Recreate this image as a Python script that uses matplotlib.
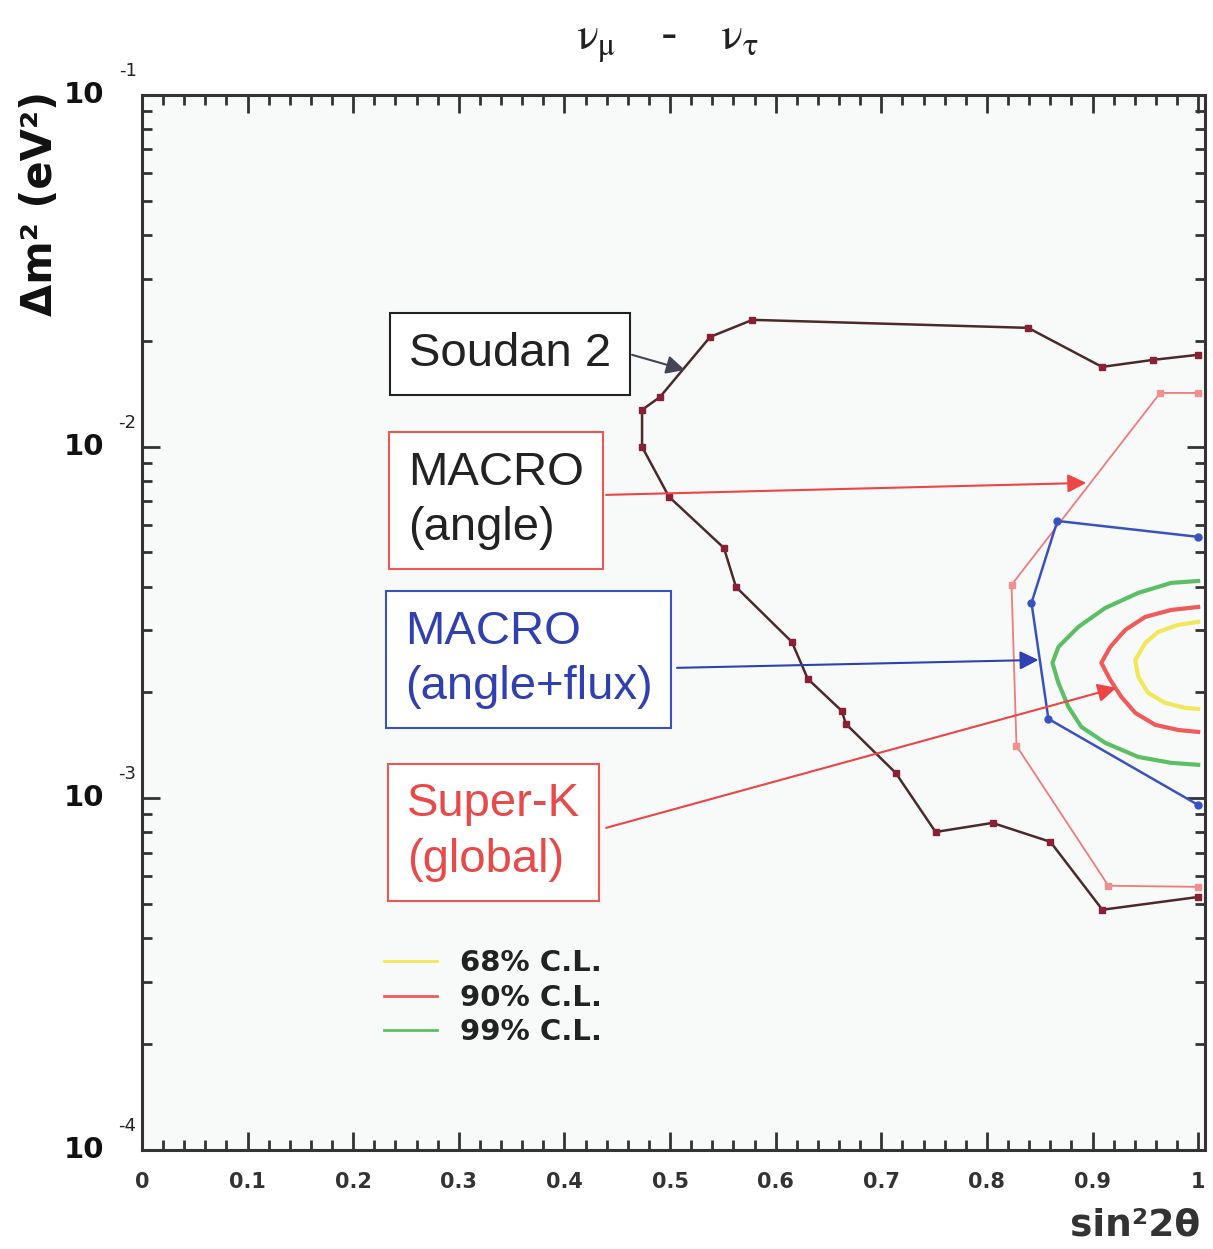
import matplotlib
matplotlib.use('Agg')
import matplotlib.pyplot as plt
from matplotlib.ticker import MultipleLocator, LogLocator, NullFormatter
import matplotlib.transforms as mtrans

plt.rcParams['mathtext.fontset'] = 'stix'

# Soudan 2 allowed region (closed outline, upper branch then lower branch)
soudan_x = [1.0, 0.957, 0.909, 0.839, 0.578, 0.538, 0.4905, 0.4735, 0.4735,
            0.499, 0.551, 0.5624, 0.6153, 0.6304, 0.6626, 0.6664, 0.7136,
            0.7514, 0.8053, 0.8601, 0.9093, 1.0]
soudan_y = [0.01824, 0.01764, 0.01685, 0.02176, 0.02293, 0.02051, 0.01384,
            0.01272, 0.009982, 0.00720, 0.00515, 0.00399, 0.002784, 0.002185,
            0.001772, 0.001628, 0.001181, 0.000802, 0.000851, 0.000752,
            0.000482, 0.000524]

# MACRO (angle)
macro_a_x = [1.0, 0.964, 0.8233, 0.828, 0.915, 1.0]
macro_a_y = [0.01421, 0.01421, 0.004044, 0.001409, 0.000564, 0.000560]

# MACRO (angle+flux)
macro_af_x = [1.0, 0.8667, 0.8422, 0.8582, 1.0]
macro_af_y = [0.005538, 0.006146, 0.003594, 0.001682, 0.000957]

# Super-K global contours
sk99_x = [1.0, 0.9745, 0.9433, 0.9121, 0.8866, 0.8677, 0.862, 0.8677, 0.8771,
          0.8894, 0.9121, 0.9433, 0.9745, 1.0]
sk99_y = [0.004149, 0.004097, 0.003837, 0.003478, 0.003072, 0.002694,
          0.002427, 0.002128, 0.001820, 0.001596, 0.001437, 0.001311,
          0.001261, 0.001245]
sk90_x = [1.0, 0.9745, 0.9499, 0.931, 0.9168, 0.9083, 0.9168, 0.9272, 0.9405,
          0.9594, 0.9811, 1.0]
sk90_y = [0.003500, 0.003432, 0.003279, 0.003012, 0.002694, 0.002427,
          0.002171, 0.001943, 0.001749, 0.001617, 0.001564, 0.001544]
sk68_x = [1.0, 0.9811, 0.9622, 0.9499, 0.9405, 0.9433, 0.9527, 0.9688, 0.9877,
          1.0]
sk68_y = [0.003174, 0.003112, 0.002972, 0.002766, 0.002474, 0.002213,
          0.001993, 0.001867, 0.001807, 0.001795]

cl_labels = ['68% C.L.', '90% C.L.', '99% C.L.']
xticks = [0, 0.1, 0.2, 0.3, 0.4, 0.5, 0.6, 0.7, 0.8, 0.9, 1]
xtick_labels = ['0', '0.1', '0.2', '0.3', '0.4', '0.5', '0.6', '0.7', '0.8', '0.9', '1']
yticks = [1e-4, 1e-3, 1e-2, 1e-1]
ytick_exps = ['-4', '-3', '-2', '-1']

fig = plt.figure(figsize=(12.13, 12.49), dpi=100)
ax = fig.add_axes([0.117, 0.0793, 0.876, 0.8447])
ax.set_facecolor('#f8fafa')

ax.plot(soudan_x, soudan_y, '-', color='#4a2a2a', lw=1.8, marker='s',
        ms=5, mfc='#8b2035', mec='#8b2035', zorder=3)
ax.plot(macro_a_x, macro_a_y, '-', color='#f27a7a', lw=1.3, marker='s',
        ms=5, mfc='#f09090', mec='#f09090', zorder=3)
ax.plot(macro_af_x, macro_af_y, '-', color='#3a52c0', lw=1.8, marker='o',
        ms=5, mfc='#3a52c0', mec='#3a52c0', zorder=3)
l68, = ax.plot(sk68_x, sk68_y, '-', color='#f2e65a', lw=3,
               solid_joinstyle='round', label=cl_labels[0])
l90, = ax.plot(sk90_x, sk90_y, '-', color='#f05a5a', lw=3,
               solid_joinstyle='round', label=cl_labels[1])
l99, = ax.plot(sk99_x, sk99_y, '-', color='#5cbf65', lw=3,
               solid_joinstyle='round', label=cl_labels[2])

ax.set_xlim(0, 1.006)
ax.set_ylim(1e-4, 1e-1)
ax.set_yscale('log')

ax.set_xticks(xticks)
ax.set_xticklabels(xtick_labels, fontsize=15, fontweight='bold', color='#333333')
ax.xaxis.set_minor_locator(MultipleLocator(0.02))
ax.set_yticks(yticks)
ax.set_yticklabels(['' for _ in yticks])
ax.yaxis.set_minor_locator(LogLocator(base=10, subs=range(2, 10)))
ax.yaxis.set_minor_formatter(NullFormatter())
ax.tick_params(which='both', direction='in', top=True, right=True,
               color='#333333', width=2)
ax.tick_params(which='major', length=13, pad=16)
ax.tick_params(which='minor', length=7)
for s in ax.spines.values():
    s.set_linewidth(2.2)
    s.set_color('#333333')

# y tick labels: "10" with exponent placed above-left of the axis
ytr = ax.get_yaxis_transform()
for yv, ex in zip(yticks, ytick_exps):
    ax.text(-0.035, yv, '10', transform=ytr, ha='right', va='center',
            fontsize=21, fontweight='bold', color='#111111')
    off = mtrans.ScaledTranslation(0, 0.24, fig.dpi_scale_trans)
    ax.text(-0.005, yv, ex, transform=ytr + off, ha='right', va='center',
            fontsize=13, color='#222222')

fig.text(40 / 1213, 1 - 203 / 1249, 'Δm² (eV²)', rotation=90, ha='center',
         va='center', fontsize=30, fontweight='bold', color='#111111')
fig.text(667 / 1213, 1 - 42 / 1249,
         r'$\mathrm{\nu_{\mu}}$   -   $\mathrm{\nu_{\tau}}$', ha='center',
         va='center', fontsize=33, color='#222222')
fig.text(1135 / 1213, 1 - 1226 / 1249, 'sin²2θ', ha='center', va='center',
         fontsize=27, fontweight='bold', color='#333333')

# labelled boxes
box_font = 'Liberation Sans'
box_fs = 34
ax.text(0.3467, 0.7545, 'Soudan 2', transform=ax.transAxes, ha='center',
        va='center', fontsize=box_fs, family=box_font, color='#222222',
        bbox=dict(boxstyle='square,pad=0.4', fc='white', ec='#222222', lw=1.5))
ax.text(0.333, 0.6156, 'MACRO\n(angle)', transform=ax.transAxes, ha='center',
        va='center', fontsize=box_fs, family=box_font, color='#222222',
        multialignment='left', linespacing=1.35,
        bbox=dict(boxstyle='square,pad=0.4', fc='white', ec='#ee5555', lw=1.5))
ax.text(0.364, 0.4649, 'MACRO\n(angle+flux)', transform=ax.transAxes,
        ha='center', va='center', fontsize=box_fs, family=box_font,
        color='#3040b0', multialignment='left', linespacing=1.35,
        bbox=dict(boxstyle='square,pad=0.4', fc='white', ec='#3a52c0', lw=1.5))
ax.text(0.3307, 0.301, 'Super-K\n(global)', transform=ax.transAxes,
        ha='center', va='center', fontsize=box_fs, family=box_font,
        color='#e84a4a', multialignment='left', linespacing=1.35,
        bbox=dict(boxstyle='square,pad=0.4', fc='white', ec='#ee5555', lw=1.5))

# arrows from boxes to curves
arrows = [((0.464, 0.01824), (0.514, 0.01652), '#444455'),
          ((0.4395, 0.00729), (0.894, 0.007884), '#ee4444'),
          ((0.5066, 0.002349), (0.8488, 0.002474), '#3040b0'),
          ((0.4395, 0.000824), (0.9225, 0.002061), '#ee4444')]
for start, tip, c in arrows:
    ax.annotate('', xy=tip, xytext=start,
                arrowprops=dict(arrowstyle='-|>', color=c, lw=1.5,
                                mutation_scale=28, shrinkA=0, shrinkB=0),
                zorder=4)

leg = ax.legend(handles=[l68, l90, l99], loc='upper left',
                bbox_to_anchor=(0.228, 0.19), frameon=False, fontsize=21,
                handlelength=1.8, handletextpad=0.8, labelspacing=0.22,
                borderpad=0, borderaxespad=0)
for t in leg.get_texts():
    t.set_fontweight('bold')
    t.set_color('#222222')
for h in leg.legend_handles:
    h.set_linewidth(2)

fig.savefig('out.png', dpi=100)
